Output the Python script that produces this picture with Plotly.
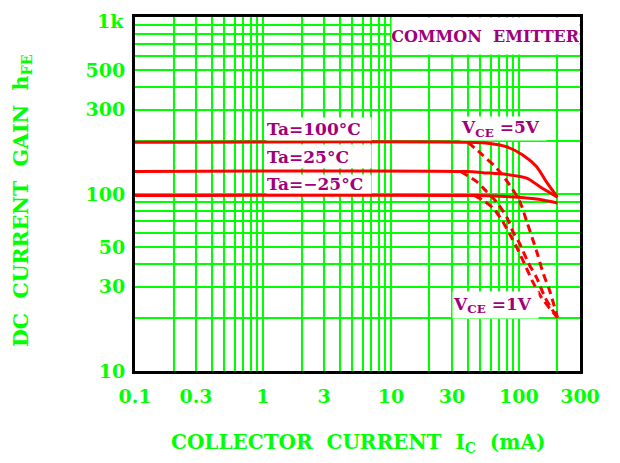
import plotly.graph_objects as go

# ---------------- data ----------------
# VCE = 5 V (solid)
ic_5v_100 = [0.1, 40, 59, 80, 107, 137, 164, 200]
hfe_5v_100 = [196, 196, 193, 185, 166, 143, 117, 96]
ic_5v_25 = [0.1, 40, 52, 80, 115, 146, 200]
hfe_5v_25 = [134, 134, 132, 129, 123, 110, 96]
ic_5v_m25 = [0.1, 50, 85, 138, 200]
hfe_5v_m25 = [98, 98, 96.5, 93.7, 89]

# VCE = 1 V (dashed)
ic_1v_100 = [40, 52, 67, 85, 102, 115, 138, 154, 175, 200]
hfe_1v_100 = [196, 166, 140, 112, 90, 70, 47, 36, 28, 20]
ic_1v_25 = [35, 47, 56, 67, 81, 90, 102, 118, 138, 160, 200]
hfe_1v_25 = [134, 117, 103, 90, 73, 61, 52, 41, 33.5, 26, 20]
ic_1v_m25 = [45, 52, 63, 75, 85, 96, 111, 128, 150, 200]
hfe_1v_m25 = [98, 92.5, 83, 69.5, 59, 50, 40, 32, 26, 20]

x_tickvals = [0.1, 0.3, 1, 3, 10, 30, 100, 300]
x_ticktext = ["0.1", "0.3", "1", "3", "10", "30", "100", "300"]
x_minor = [0.2, 0.4, 0.5, 0.6, 0.7, 0.8, 0.9,
           2, 4, 5, 6, 7, 8, 9,
           20, 40, 50, 60, 70, 80, 90, 200]
y_tickvals = [10, 30, 50, 100, 300, 500]
y_ticktext = ["10", "30", "50", "100", "300", "500"]
y_top_label = "1k"   # label of the top of the y axis (1000)
y_minor = [20, 40, 60, 70, 80, 90, 200, 400, 600, 700, 800, 900]

# ---------------- style ----------------
GREEN = "#00ff00"
RED = "#ff0000"
PURPLE = "#a0007a"
FONT = "DejaVu Serif"

fig = go.Figure()

def add(x, y, dashed):
    fig.add_trace(go.Scatter(
        x=x, y=y, mode="lines",
        line=dict(color=RED, width=3, shape="spline", smoothing=0.8,
                  dash="8px,5px" if dashed else "solid"),
        hoverinfo="skip", showlegend=False))

add(ic_5v_100, hfe_5v_100, False)
add(ic_5v_25, hfe_5v_25, False)
add(ic_5v_m25, hfe_5v_m25, False)
add(ic_1v_100, hfe_1v_100, True)
add(ic_1v_25, hfe_1v_25, True)
add(ic_1v_m25, hfe_1v_m25, True)

axis_common = dict(
    showline=True, linecolor="black", linewidth=3, mirror=True,
    showgrid=True, gridcolor=GREEN, gridwidth=2,
    ticks="", zeroline=False, automargin=False,
    tickfont=dict(family=FONT, size=19, color=GREEN, weight="bold"),
)

fig.update_xaxes(type="log", range=[-1, 2.4771],
                 tickmode="array", tickvals=x_tickvals, ticktext=x_ticktext,
                 minor=dict(tickvals=x_minor, showgrid=True, gridcolor=GREEN,
                            gridwidth=2),
                 ticklabelstandoff=6,
                 **axis_common)
fig.update_yaxes(type="log", range=[1, 3],
                 tickmode="array", tickvals=y_tickvals, ticktext=y_ticktext,
                 minor=dict(tickvals=y_minor, showgrid=True, gridcolor=GREEN,
                            gridwidth=2),
                 ticklabelstandoff=3,
                 **axis_common)

PW, PH = 445.0, 354.0  # plot area size in px


def label(text, x, y, size=17, xanchor="left", color=PURPLE, angle=0,
          bg=None, w=None, h=None, yanchor="middle", align="left"):
    kw = {}
    if bg:
        kw.update(bgcolor=bg, borderpad=0)
    if w:
        kw["width"] = w
    if h:
        kw["height"] = h
    fig.add_annotation(text=text, x=x, y=y, xref="paper", yref="paper",
                       xanchor=xanchor, yanchor=yanchor, showarrow=False,
                       textangle=angle, align=align, valign="middle",
                       font=dict(family=FONT, size=size, color=color, weight="bold"),
                       **kw)


# "1k" at the top of the y axis, kept inside the figure
label(y_top_label, -9 / PW, 1 + 8 / PH, size=19, xanchor="right",
      yanchor="top", color=GREEN, h=20, align="right")

# labels on white boxes that hide the grid (positions as fractions of plot area)
label("COMMON  EMITTER", 256 / PW, 1 - 0.5 / PH, size=16, xanchor="left",
      yanchor="top", bg="white", w=187, h=36, align="center")
label("Ta=100°C", 131 / PW, 1 - 112 / PH, bg="white", w=104, h=22)
label("Ta=25°C", 131 / PW, 1 - 139.5 / PH, bg="white", w=104, h=23)
label("Ta=−25°C", 131 / PW, 1 - 166.5 / PH, bg="white", w=104, h=18)
label("V<sub>CE</sub> =5V", 325 / PW, 1 - 111.5 / PH, bg="white", w=85, h=23)
label("V<sub>CE</sub> =1V", 317 / PW, 1 - 288 / PH, bg="white", w=85, h=26)

# axis titles
label("COLLECTOR  CURRENT  I<sub>C</sub>  (mA)", 0.5, -0.203, size=20,
      xanchor="center", color=GREEN)
label("DC  CURRENT  GAIN  h<sub>FE</sub>", -0.254, 0.483, size=20.5,
      xanchor="center", color=GREEN, angle=-90)

# the page body has an 8px margin, so the figure is shifted by 8px
fig.update_layout(
    width=612, height=455,
    margin=dict(l=127, r=40, t=9, b=92),
    paper_bgcolor="white", plot_bgcolor="white",
    showlegend=False,
)

fig.write_html("out.html")
